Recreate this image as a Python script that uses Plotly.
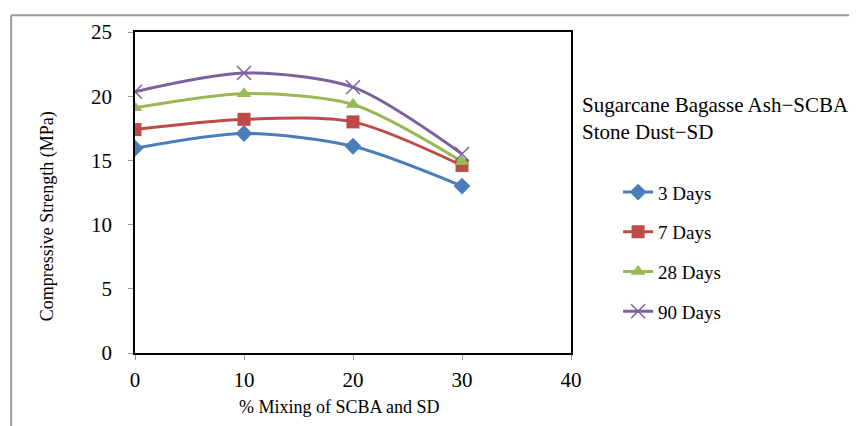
import plotly.graph_objects as go

mixing = [0, 10, 20, 30]
days3 = [15.95, 17.1, 16.1, 13.0]
days7 = [17.4, 18.2, 18.0, 14.6]
days28 = [19.1, 20.2, 19.35, 14.9]
days90 = [20.35, 21.8, 20.7, 15.5]
series_names = ["3 Days", "7 Days", "28 Days", "90 Days"]
colors = ["#4A7EBB", "#BE4B48", "#98B954", "#7D60A0"]
symbols = ["diamond", "square", "triangle-up", "x-thin"]

FONT = "Liberation Serif"
fig = go.Figure()
for i, (name, vals) in enumerate(zip(series_names, [days3, days7, days28, days90])):
    marker = dict(symbol=symbols[i], size=13, color=colors[i])
    if symbols[i] == "x-thin":
        marker = dict(symbol="x-thin", size=14, color=colors[i], line=dict(color=colors[i], width=1.5))
    fig.add_trace(go.Scatter(
        x=mixing, y=vals, name=name, mode="lines+markers",
        line=dict(color=colors[i], width=3, shape="spline", smoothing=0.8),
        marker=marker, legendgroup=name,
    ))

fig.update_layout(
    width=849, height=418,
    margin=dict(l=127, r=286, t=19, b=73),
    paper_bgcolor="white", plot_bgcolor="white",
    font=dict(family=FONT, color="black"),
    showlegend=True,
    legend=dict(x=1.108, y=0.56, xanchor="left", yanchor="top",
                font=dict(family=FONT, size=19), tracegroupgap=12,
                bgcolor="rgba(0,0,0,0)"),
    xaxis=dict(range=[0, 40], tickvals=[0, 10, 20, 30, 40], showgrid=False, zeroline=False,
               showline=True, linecolor="black", linewidth=1.5, mirror=True,
               ticks="outside", ticklen=5, tickcolor="#999999",
               tickfont=dict(size=21, family=FONT), ticklabelstandoff=2),
    yaxis=dict(range=[0, 25], tickvals=[0, 5, 10, 15, 20, 25], showgrid=False, zeroline=False,
               showline=True, linecolor="black", linewidth=1.5, mirror=True,
               ticks="outside", ticklen=5, tickcolor="#999999",
               tickfont=dict(size=21, family=FONT), ticklabelstandoff=12),
    annotations=[
        dict(text="Sugarcane Bagasse Ash\u2212SCBA<br>Stone Dust\u2212SD",
             xref="paper", yref="paper", x=1.021, y=0.815, xanchor="left", yanchor="top",
             align="left", showarrow=False, font=dict(family=FONT, size=21, color="black")),
        dict(text="% Mixing of SCBA and SD", xref="paper", yref="paper", x=0.47, y=-0.169,
             xanchor="center", yanchor="middle", showarrow=False,
             font=dict(family=FONT, size=18, color="black")),
        dict(text="Compressive Strength (MPa)", xref="paper", yref="paper", x=-0.202, y=0.426,
             xanchor="center", yanchor="middle", textangle=-90, showarrow=False,
             font=dict(family=FONT, size=18, color="black")),
    ],
    shapes=[
        dict(type="line", xref="paper", yref="paper", x0=-0.284, x1=1.7, y0=1.052, y1=1.052,
             line=dict(color="#999999", width=2)),
        dict(type="line", xref="paper", yref="paper", x0=-0.284, x1=-0.284, y0=-0.3, y1=1.052,
             line=dict(color="#999999", width=2)),
    ],
)
fig.write_html("out.html")
